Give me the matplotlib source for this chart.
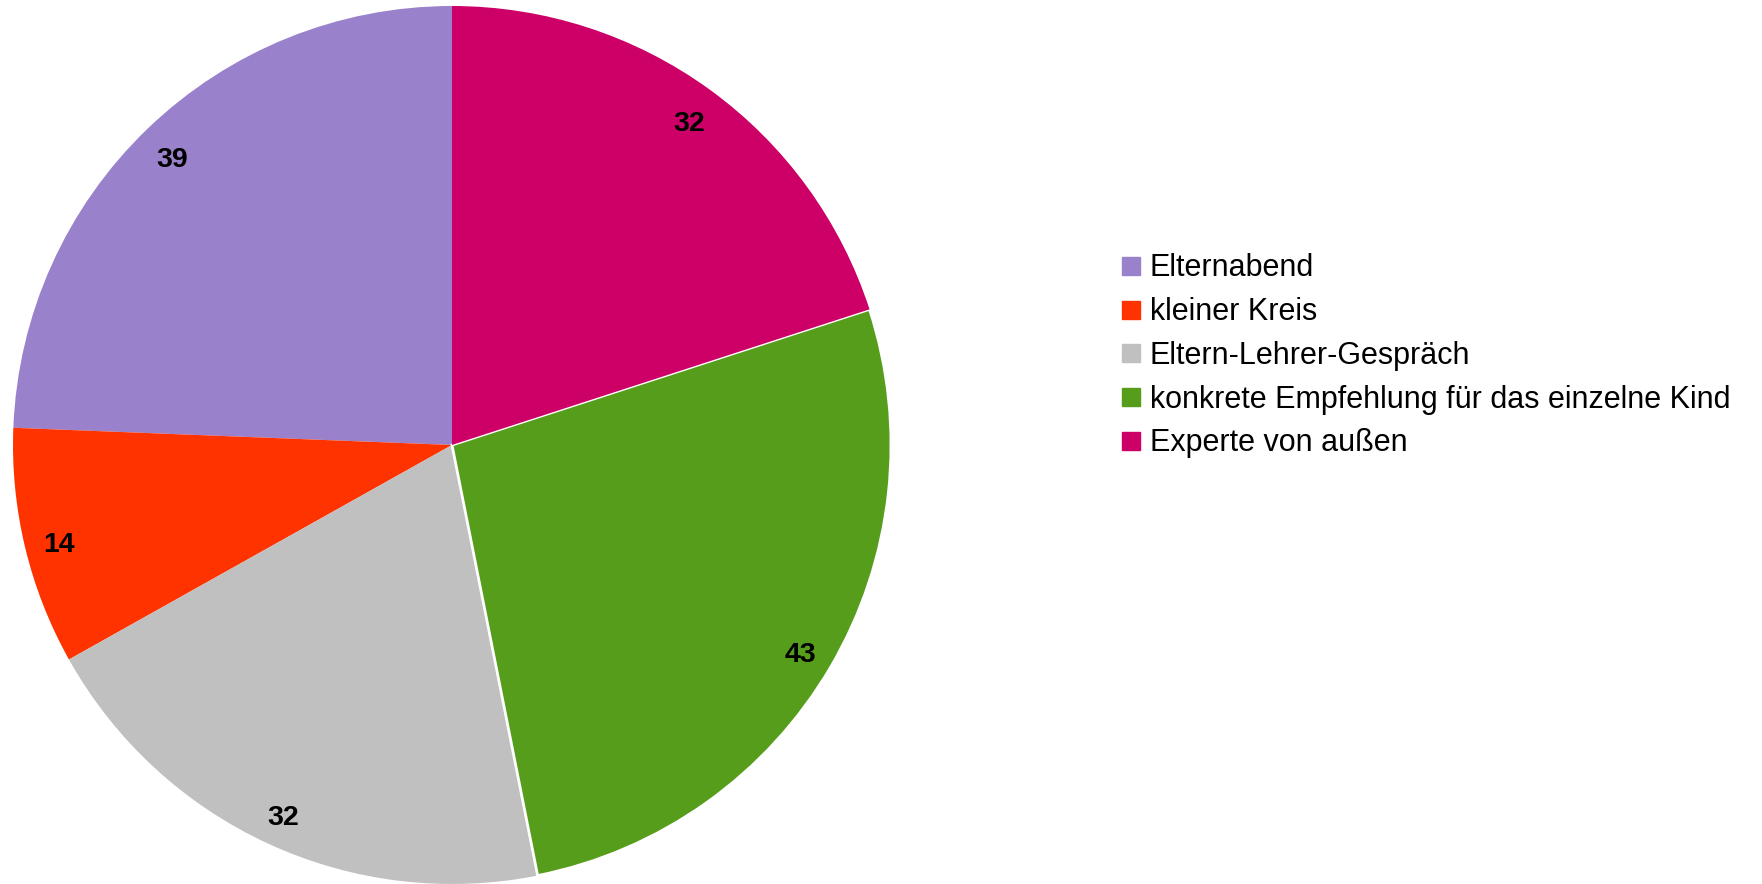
import matplotlib
matplotlib.use("Agg")
import matplotlib.pyplot as plt
from matplotlib.lines import Line2D
from matplotlib.transforms import ScaledTranslation

plt.rcParams['font.family'] = ['Liberation Sans', 'DejaVu Sans']

# data
categories = ["Elternabend", "kleiner Kreis", "Eltern-Lehrer-Gespräch",
              "konkrete Empfehlung für das einzelne Kind", "Experte von außen"]
values = [39, 14, 32, 43, 32]
colors = ["#9982CB", "#FF3300", "#C0C0C0", "#579D1C", "#CC0066"]

W, H = 1762, 884
fig = plt.figure(figsize=(W / 100, H / 100), dpi=100)

# pie centre ~(452,445) px, radius ~439 px
cx, cy, r = 452, 445, 439
ax = fig.add_axes([(cx - r) / W, (H - cy - r) / H, 2 * r / W, 2 * r / H])

wedges, texts, autotexts = ax.pie(
    values, colors=colors, startangle=90, counterclock=True,
    autopct=lambda p: "%d" % round(p * sum(values) / 100),
    pctdistance=0.92, radius=1.0,
    textprops=dict(fontsize=20.5, fontweight='bold', color='black'))

# labels sit a few px lower in the original
shift = ScaledTranslation(0, -6 / 100, fig.dpi_scale_trans)
for t in autotexts:
    t.set_transform(t.get_transform() + shift)

# the green wedge has a thin white border
wedges[3].set_edgecolor('white')
wedges[3].set_linewidth(2)

ax.set_xlim(-1, 1)
ax.set_ylim(-1, 1)
ax.set_aspect('equal')
ax.axis('off')

handles = [Line2D([], [], marker='s', linestyle='none', markersize=12.5,
                  markerfacecolor=c, markeredgecolor=c) for c in colors]
fig.legend(handles, categories, loc='center left',
           bbox_to_anchor=(1122 / W, 1 - 356 / H),
           frameon=False, fontsize=22, handlelength=0.6, handletextpad=0.3,
           labelspacing=0.45, borderpad=0, borderaxespad=0)

fig.savefig("out.png", dpi=100)
